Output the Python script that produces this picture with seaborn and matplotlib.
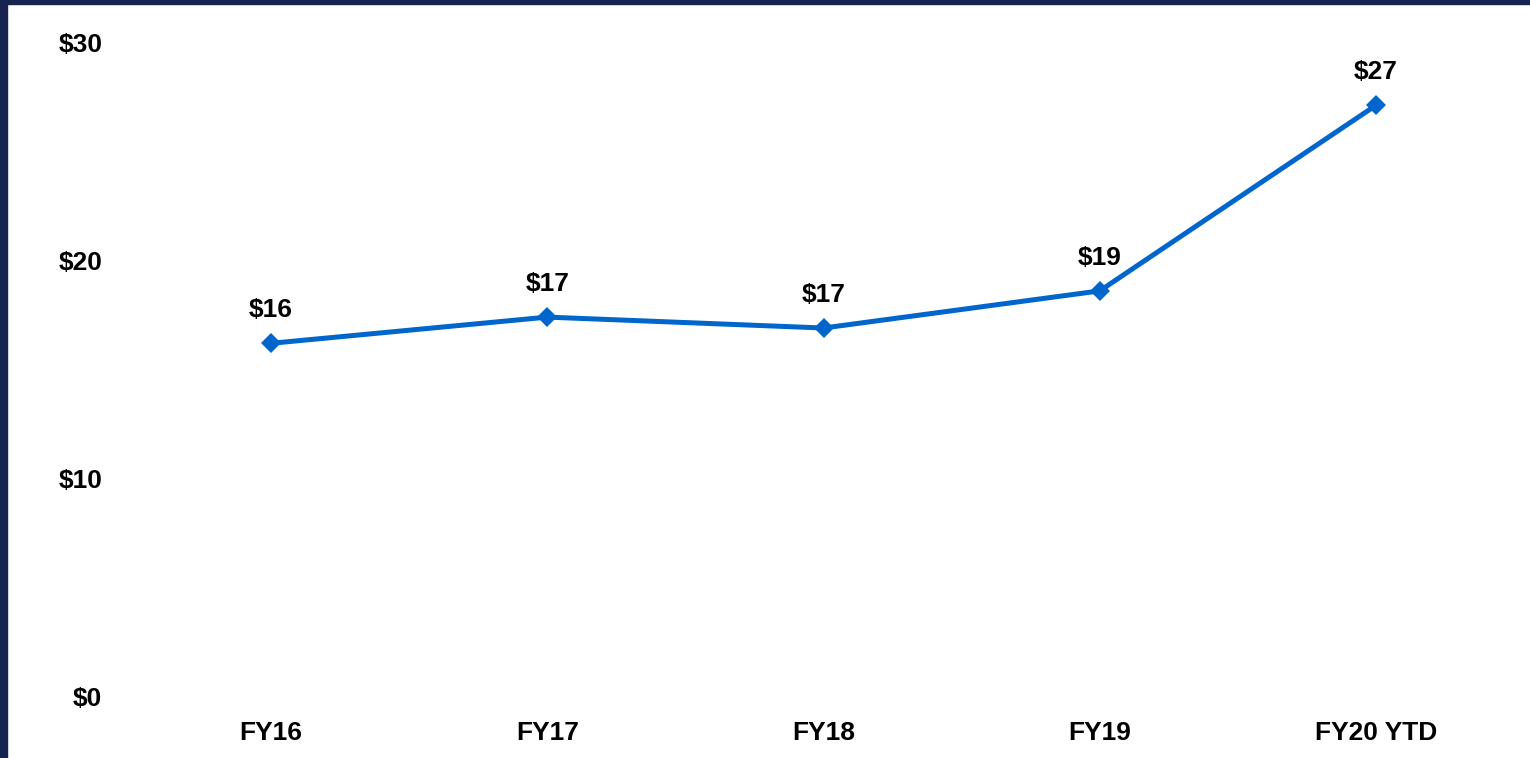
import pandas as pd
import matplotlib.pyplot as plt
import seaborn as sns
from matplotlib.patches import Rectangle

years = ['FY16', 'FY17', 'FY18', 'FY19', 'FY20 YTD']
values = [16.2, 17.4, 16.9, 18.6, 27.1]
labels = ['$16', '$17', '$17', '$19', '$27']
y_ticks = [0, 10, 20, 30]

line_color = '#0066CC'
navy = '#17244F'

sns.set_theme(style='white')
plt.rcParams['font.family'] = ['Liberation Sans', 'DejaVu Sans']

df = pd.DataFrame({'year': years, 'value': values})

fig = plt.figure(figsize=(15.3, 7.58), dpi=100)
ax = fig.add_axes([133 / 1530, 61 / 758, (1514 - 133) / 1530, (697 - 42) / 758])

sns.lineplot(data=df, x='year', y='value', sort=False, ax=ax, color=line_color,
             linewidth=3.6, marker='D', markersize=10, markeredgewidth=0)

for i, (v, lab) in enumerate(zip(values, labels)):
    ax.annotate(lab, (i, v), xytext=(0, 15), textcoords='offset points',
                ha='center', va='bottom', fontsize=19, fontweight='bold', color='black')

ax.set_xlim(-0.5, 4.5)
ax.set_ylim(0, 30)
ax.set_yticks(y_ticks)
ax.set_yticklabels([f'${t}' for t in y_ticks])
ax.set_xlabel('')
ax.set_ylabel('')
ax.tick_params(axis='y', length=0, pad=22, labelsize=19)
ax.tick_params(axis='x', length=0, pad=17, labelsize=19)
for t in ax.get_xticklabels() + ax.get_yticklabels():
    t.set_fontweight('bold')
    t.set_color('black')
sns.despine(ax=ax, left=True, bottom=True)

# dark frame along left and top edges
fig.patches.append(Rectangle((0, 0), 7 / 1530, 1, transform=fig.transFigure, color=navy, zorder=10))
fig.patches.append(Rectangle((0, 1 - 4 / 758), 1, 4 / 758, transform=fig.transFigure, color=navy, zorder=10))

fig.savefig('out.png', dpi=100)
